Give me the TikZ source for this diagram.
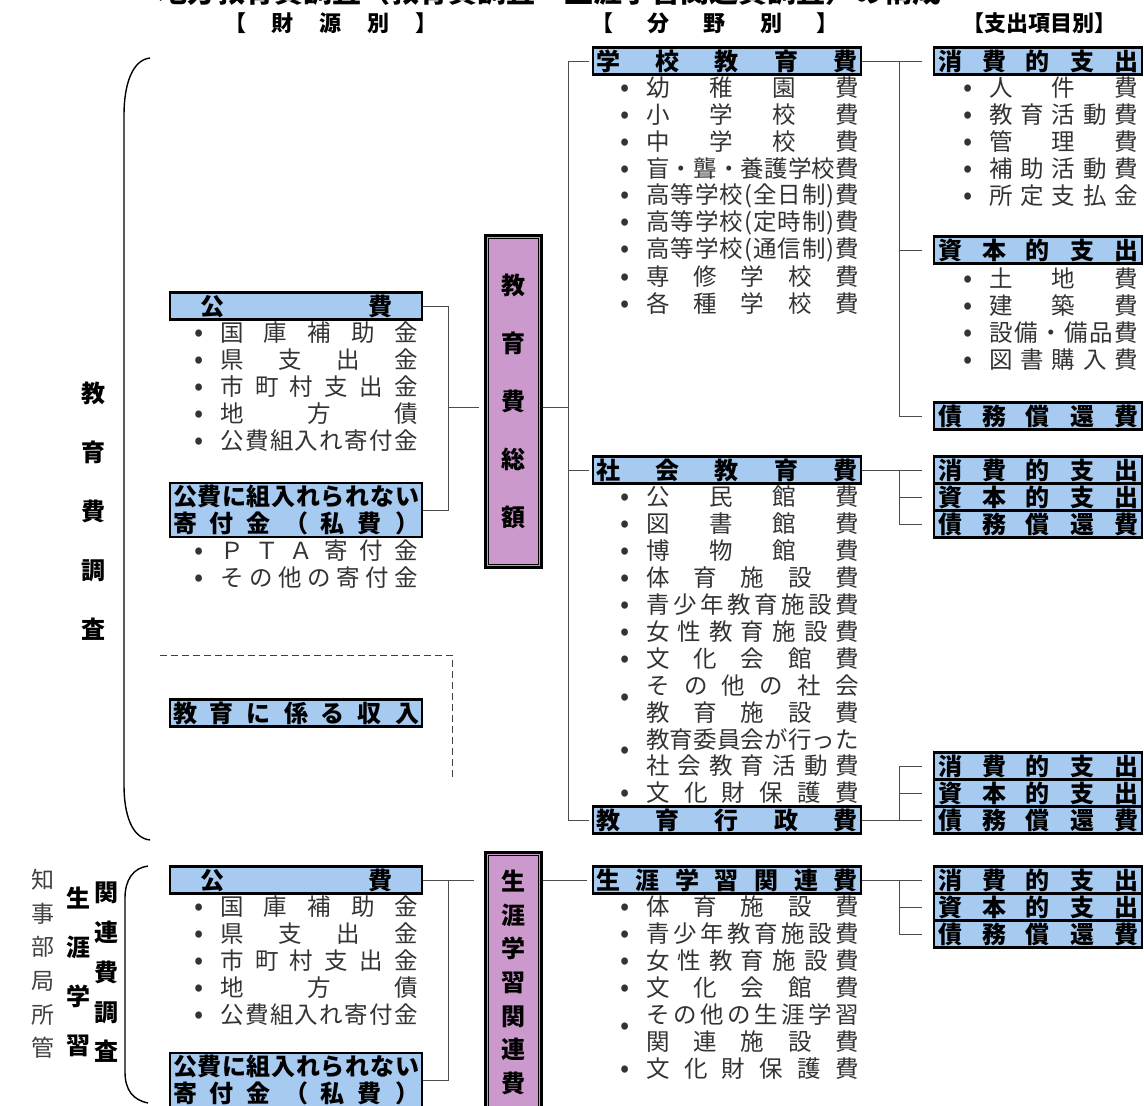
\documentclass[tikz,border=0pt]{standalone}
\usepackage{fontspec}
\setmainfont{Noto Sans CJK JP}
\definecolor{hdrblue}{RGB}{166,202,240}
\definecolor{sumpurple}{RGB}{204,153,204}

% spread the characters of a label over a fixed width
\def\distaux#1#2{#1\ifx\relax#2\else\hfil\expandafter\distaux\expandafter#2\fi}
\newcommand\dist[2]{\hbox to #1pt{\expandafter\distaux#2\relax}}
\newcommand\bdot{\makebox[24pt]{\raisebox{0pt}{\fontsize{27}{27}\selectfont •}}}
\newcommand\bul{\makebox[33pt][l]{\bdot}}

\tikzset{
  hdr/.style={draw, line width=2.4pt, fill=hdrblue, inner sep=0pt,
    minimum height=27pt, font=\bfseries\fontsize{24}{27}\selectfont},
  itm/.style={anchor=west, inner sep=0pt, text=black!80,
    font=\fontsize{23.5}{27}\selectfont},
  total/.style={draw, line width=3pt, fill=sumpurple, inner sep=0pt, minimum width=56pt},
  vtxt/.style={align=center, inner sep=0pt, font=\bfseries\fontsize{24}{#1}\selectfont},
  vthin/.style={align=center, inner sep=0pt, text=black!75, font=\fontsize{23}{#1}\selectfont},
  colhd/.style={inner sep=0pt, font=\bfseries\fontsize{22}{24}\selectfont},
  conn/.style={draw=black!70, line width=1pt},
}

\begin{document}
\begin{tikzpicture}[x=1pt, y=-1pt]
\useasboundingbox (0,0) rectangle (1144,1106);

% Title, cut by the top edge
\node[anchor=base, inner sep=0pt, font=\bfseries\fontsize{29}{30}\selectfont] (title) at (550,2)
  {地方教育費調査（教育費調査・生涯学習関連費調査）の構成};

% Column headings
\node[colhd] (hdZai) at (331,23) {\dist{214}{【財源別】}};
\node[colhd] (hdBun) at (715,23) {\dist{248}{【分野別】}};
\node[colhd] (hdShi) at (1039,23) {【支出項目別】};

% Brackets on the left
\draw[line width=1.4pt] (150,58) .. controls (132,60) and (124,85) .. (124,115)
  -- (124,785) .. controls (124,815) and (132,838) .. (150,840);
\draw[line width=1.4pt] (148,866) .. controls (133,868) and (125,880) .. (125,898)
  -- (125,1072) .. controls (125,1090) and (133,1100) .. (148,1103);

% Survey names
\node[vtxt=59] (kyohi) at (93,511) {教\\育\\費\\調\\査};
\node[vthin=33.6] (chiji) at (43,964) {知\\事\\部\\局\\所\\管};
\node[vtxt=49] (shoA) at (78,971.5) {生\\涯\\学\\習};
\node[vtxt=39.75] (shoB) at (106,972.5) {関\\連\\費\\調\\査};

% Sources: education expense survey
\node[hdr, minimum width=252pt] (kohi) at (296,306) {\dist{192}{公費}};
\foreach \nm [count=\k] in {国庫補助金,県支出金,市町村支出金,地方債,公費組入れ寄付金}
  \node[itm] (kohi\k) at (187,306+27*\k) {\bul\dist{198}{\nm}};
\node[hdr, minimum width=252pt, minimum height=54pt, align=center] (shihi) at (296,510)
  {\dist{246}{公費に組入れられない}\\\dist{246}{寄付金（私費）}};
\foreach \nm [count=\k] in {ＰＴＡ寄付金,その他の寄付金}
  \node[itm] (shihi\k) at (187,524+27*\k) {\bul\dist{198}{\nm}};

% Revenue box
\draw[draw=black!75, line width=1pt, dash pattern=on 7pt off 4pt] (160,655) -- (452,655) -- (452,780);
\node[hdr, minimum width=252pt] (shunyu) at (296,713) {\dist{246}{教育に係る収入}};

% Total boxes
\node[total, minimum height=332pt, vtxt=58] (sogaku) at (513,401) {教\\育\\費\\総\\額};
\draw[line width=1pt] ([shift={(4.5,-4.5)}]sogaku.south west) rectangle ([shift={(-4.5,4.5)}]sogaku.north east);
\node[total, minimum height=280pt] (shogaiV) at (513,992) {};
\draw[line width=1pt] ([shift={(4.5,-4.5)}]shogaiV.south west) rectangle ([shift={(-4.5,4.5)}]shogaiV.north east);
\node[vtxt=33.6] (shogaiT) at (513,982.5) {生\\涯\\学\\習\\関\\連\\費};

% Fields
\node[hdr, minimum width=268pt] (gakko) at (727,61) {\dist{262}{学校教育費}};
\foreach \nm [count=\k] in {幼稚園費,小学校費,中学校費,盲・聾・養護学校費,高等学校(全日制)費,
    高等学校(定時制)費,高等学校(通信制)費,専修学校費,各種学校費}
  \node[itm] (gakko\k) at (613,61+27*\k) {\bul\dist{213}{\nm}};

\node[hdr, minimum width=268pt] (shakai) at (727,470) {\dist{262}{社会教育費}};
\foreach \nm [count=\k] in {公民館費,図書館費,博物館費,体育施設費,青少年教育施設費,女性教育施設費,文化会館費}
  \node[itm] (shakai\k) at (613,470+27*\k) {\bul\dist{213}{\nm}};
\node[itm] (shakai8) at (613,699.5) {\bdot};
\node[itm] (shakai8a) at (646,686) {\dist{213}{その他の社会}};
\node[itm] (shakai8b) at (646,713) {\dist{213}{教育施設費}};
\node[itm] (shakai9) at (613,753) {\bdot};
\node[itm] (shakai9a) at (646,740) {\dist{213}{教育委員会が行った}};
\node[itm] (shakai9b) at (646,766) {\dist{213}{社会教育活動費}};
\node[itm] (shakai10) at (613,793) {\bul\dist{213}{文化財保護費}};
\node[hdr, minimum width=268pt] (gyosei) at (727,820) {\dist{262}{教育行政費}};

\node[hdr, minimum width=268pt] (shogaku) at (727,880) {\dist{262}{生涯学習関連費}};
\foreach \nm [count=\k] in {体育施設費,青少年教育施設費,女性教育施設費,文化会館費}
  \node[itm] (shogaku\k) at (613,880+27*\k) {\bul\dist{213}{\nm}};
\node[itm] (shogaku5) at (613,1028.5) {\bdot};
\node[itm] (shogaku5a) at (646,1015) {\dist{213}{その他の生涯学習}};
\node[itm] (shogaku5b) at (646,1042) {\dist{213}{関連施設費}};
\node[itm] (shogaku6) at (613,1069) {\bul\dist{213}{文化財保護費}};

% Expenditure items
\node[hdr, minimum width=208pt] (shohiA) at (1038,61) {\dist{200}{消費的支出}};
\foreach \nm [count=\k] in {人件費,教育活動費,管理費,補助活動費,所定支払金}
  \node[itm] (shohiA\k) at (956,61+27*\k) {\bul\dist{149}{\nm}};
\node[hdr, minimum width=208pt] (shihonA) at (1038,250) {\dist{200}{資本的支出}};
\foreach \nm [count=\k] in {土地費,建築費,設備・備品費,図書購入費}
  \node[itm] (shihonA\k) at (956,252+27*\k) {\bul\dist{149}{\nm}};
\node[hdr, minimum width=208pt] (saimuA) at (1038,416) {\dist{200}{債務償還費}};
\foreach \g/\y in {B/470, C/766, D/880} {
  \node[hdr, minimum width=208pt] (shohi\g) at (1038,\y) {\dist{200}{消費的支出}};
  \node[hdr, minimum width=208pt] (shihon\g) at (1038,\y+27) {\dist{200}{資本的支出}};
  \node[hdr, minimum width=208pt] (saimu\g) at (1038,\y+54) {\dist{200}{債務償還費}};
}

% Sources: lifelong learning survey
\node[hdr, minimum width=252pt] (kohiB) at (296,880) {\dist{192}{公費}};
\foreach \nm [count=\k] in {国庫補助金,県支出金,市町村支出金,地方債,公費組入れ寄付金}
  \node[itm] (kohiB\k) at (187,880+27*\k) {\bul\dist{198}{\nm}};
\node[hdr, minimum width=252pt, minimum height=54pt, align=center] (shihiB) at (296,1080)
  {\dist{246}{公費に組入れられない}\\\dist{246}{寄付金（私費）}};

% Connectors: sources to totals
\coordinate (jL) at (448,407);
\draw[conn] (kohi.east) -| (jL);
\draw[conn] (shihi.east) -| (jL);
\draw[conn, shorten >=5pt] (jL) -- (jL -| sogaku.west);
\coordinate (jL2) at (448,880);
\draw[conn] (kohiB.east) -- (jL2);
\draw[conn] (shihiB.east) -| (jL2);
\draw[conn, shorten >=10pt] (jL2) -- (jL2 -| shogaiV.west);

% Connectors: totals to fields
\coordinate (ltr) at (568,407);
\draw[conn] (ltr -| sogaku.east) -- (ltr);
\draw[conn, shorten <=3pt] (gakko.west) -| (ltr);
\draw[conn, shorten <=3pt] (gyosei.west) -| (ltr);
\draw[conn, shorten <=3pt] (shakai.west) -- (shakai.west -| ltr);
\draw[conn, shorten >=5pt] (shogaiV.east |- shogaku.west) -- (shogaku.west);

% Connectors: fields to expenditure items
\foreach \g/\src in {A/gakko, B/shakai, C/gyosei, D/shogaku} {
  \path (\src.east) ++(37,0) coordinate (tr\g);
  \draw[conn] (\src.east) -- (tr\g);
  \foreach \b in {shohi,shihon,saimu}
    \draw[conn, shorten >=11pt] (tr\g) |- (\b\g.west);
}
\end{tikzpicture}
\end{document}
